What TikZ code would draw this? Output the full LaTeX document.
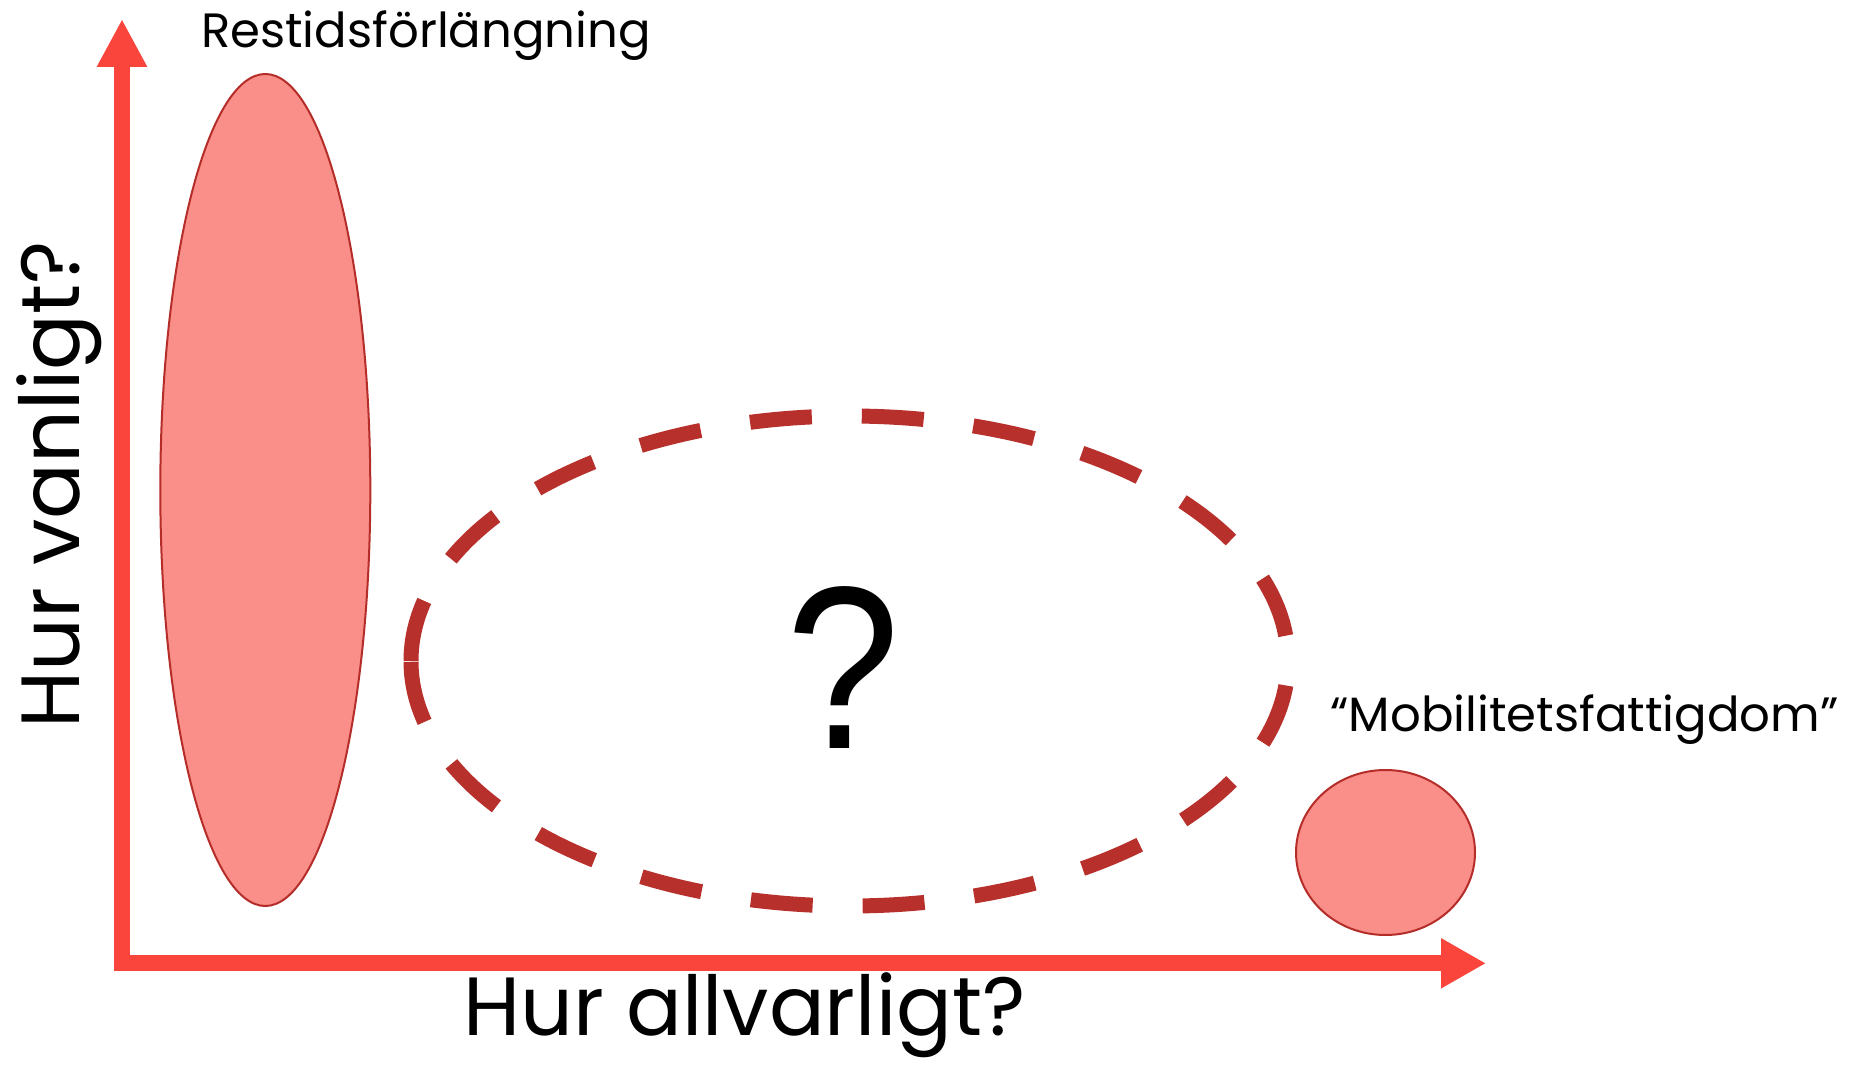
\documentclass[tikz,border=0pt]{standalone}
\usepackage{fontspec}
\setmainfont{Poppins}
\newfontfamily\qmarkfont{Liberation Sans}
\usetikzlibrary{arrows.meta}
\definecolor{riskAxisRed}{HTML}{FA453D}
\definecolor{riskFill}{HTML}{FA8E89}
\definecolor{riskEdge}{HTML}{B52D29}
\definecolor{riskDash}{HTML}{B8302B}

\begin{document}
\begin{tikzpicture}[
    axisline/.style={line width=0.16cm, riskAxisRed},
    blob/.style={fill=riskFill, draw=riskEdge, line width=0.02cm},
    axislabel/.style={inner sep=0pt, font=\fontsize{23.5pt}{28pt}\selectfont},
    blobtext/.style={inner sep=0pt, font=\fontsize{13.7pt}{17pt}\selectfont}
  ]
            \useasboundingbox (0,0) rectangle (18.68,10.65);
            \coordinate (origin) at (1.22,1.017);
            \coordinate (ytip) at (1.22,10.46);
            \coordinate (xtip) at (14.86,1.017);
            \coordinate (qc) at (8.495,4.04);
            \draw[axisline, -{Triangle[length=0.48cm,width=0.47cm]}] ([yshift=-0.08cm]origin) -- (ytip);
            \draw[axisline, -{Triangle[length=0.45cm,width=0.47cm]}] ([xshift=-0.08cm]origin) -- (xtip);
            \draw[blob] (2.653,5.75) ellipse [x radius=1.05cm, y radius=4.16cm];
            \draw[blob] (13.855,2.125) ellipse [x radius=0.895cm, y radius=0.825cm];
            \draw[riskDash, line width=0.15cm, dash pattern=on 0.62cm off 0.5cm]
                ([xshift=-4.385cm]qc) arc[start angle=180, end angle=-180, x radius=4.385cm, y radius=2.45cm];
            \node[blobtext, anchor=base] (restidlabel) at (4.26,10.17) {Restidsförlängning};
            \node[blobtext, anchor=base] (mobillabel) at (15.845,3.34) {“Mobilitetsfattigdom”};
            \node[axislabel, anchor=base] (xlabel) at (7.445,0.30) {Hur allvarligt?};
            \node[axislabel, anchor=base, rotate=90] (ylabel) at (0.80,5.80) {Hur vanligt?};
            \node[inner sep=0pt, anchor=base, font=\qmarkfont\fontsize{66pt}{74pt}\selectfont] (qmark) at (8.43,3.17) {\scalebox{0.88}[1]{?}};
        \end{tikzpicture}
\end{document}
